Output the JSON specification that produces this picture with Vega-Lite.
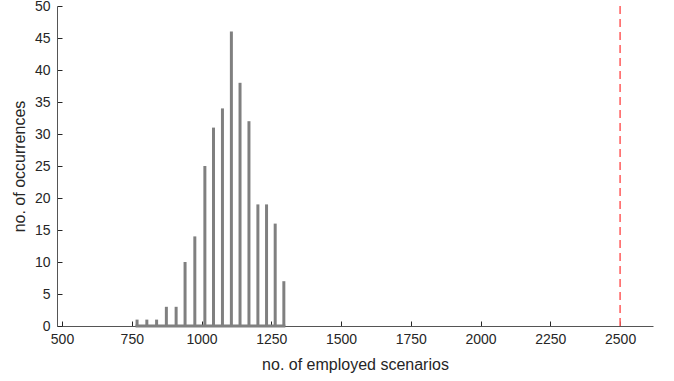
{
  "$schema": "https://vega.github.io/schema/vega-lite/v6.json",
  "width": 596,
  "height": 320,
  "autosize": {"type": "none"},
  "padding": {"left": 57, "top": 6, "right": 21, "bottom": 55},
  "background": "white",
  "config": {
    "view": {"stroke": null},
    "font": "Liberation Sans",
    "axis": {
      "grid": false,
      "tickSize": -5,
      "tickColor": "#262626",
      "domainColor": "#555555",
      "labelColor": "#262626",
      "labelFontSize": 14,
      "labelOverlap": false,
      "titleColor": "#262626",
      "titleFontSize": 16,
      "titleFontWeight": "normal",
      "zindex": 1
    }
  },
  "data": {
    "values": [
      {"scenarios": 769, "count": 1},
      {"scenarios": 804, "count": 1},
      {"scenarios": 839, "count": 1},
      {"scenarios": 874, "count": 3},
      {"scenarios": 909, "count": 3},
      {"scenarios": 941, "count": 10},
      {"scenarios": 976, "count": 14},
      {"scenarios": 1012, "count": 25},
      {"scenarios": 1043, "count": 31},
      {"scenarios": 1075, "count": 34},
      {"scenarios": 1107, "count": 46},
      {"scenarios": 1138, "count": 38},
      {"scenarios": 1170, "count": 32},
      {"scenarios": 1202, "count": 19},
      {"scenarios": 1233, "count": 19},
      {"scenarios": 1264, "count": 16},
      {"scenarios": 1295, "count": 7}
    ]
  },
  "layer": [
    {
      "mark": {"type": "bar", "width": 3, "color": "#808080"},
      "encoding": {
        "x": {
          "field": "scenarios",
          "type": "quantitative",
          "scale": {"domain": [500, 2600], "nice": false, "zero": false},
          "axis": {
            "title": "no. of employed scenarios",
            "values": [500, 750, 1000, 1250, 1500, 1750, 2000, 2250, 2500],
            "format": "d",
            "labelOverlap": false,
            "labelPadding": 11,
            "titleY": 30,
            "labelFlush": false
          }
        },
        "y": {
          "field": "count",
          "type": "quantitative",
          "scale": {"domain": [0, 50], "nice": false},
          "axis": {
            "title": "no. of occurrences",
            "values": [0, 5, 10, 15, 20, 25, 30, 35, 40, 45, 50],
            "format": "d",
            "labelOverlap": false,
            "labelPadding": 12,
            "titleX": -30,
            "labelFlush": false
          }
        }
      }
    },
    {
      "mark": {"type": "rule", "strokeWidth": 3, "color": "#808080", "strokeCap": "square"},
      "encoding": {
        "x": {"aggregate": "min", "field": "scenarios", "type": "quantitative"},
        "x2": {"aggregate": "max", "field": "scenarios"},
        "y": {
          "datum": 0,
          "type": "quantitative",
          "axis": {
            "title": "no. of occurrences",
            "values": [0, 5, 10, 15, 20, 25, 30, 35, 40, 45, 50],
            "format": "d",
            "labelOverlap": false,
            "labelPadding": 12,
            "titleX": -30,
            "labelFlush": false
          }
        }
      }
    },
    {
      "data": {"values": [{"threshold": 2500}]},
      "mark": {"type": "rule", "color": "#ff5a5a", "strokeDash": [8, 5], "strokeWidth": 1.5},
      "encoding": {
        "x": {"field": "threshold", "type": "quantitative"}
      }
    }
  ]
}
